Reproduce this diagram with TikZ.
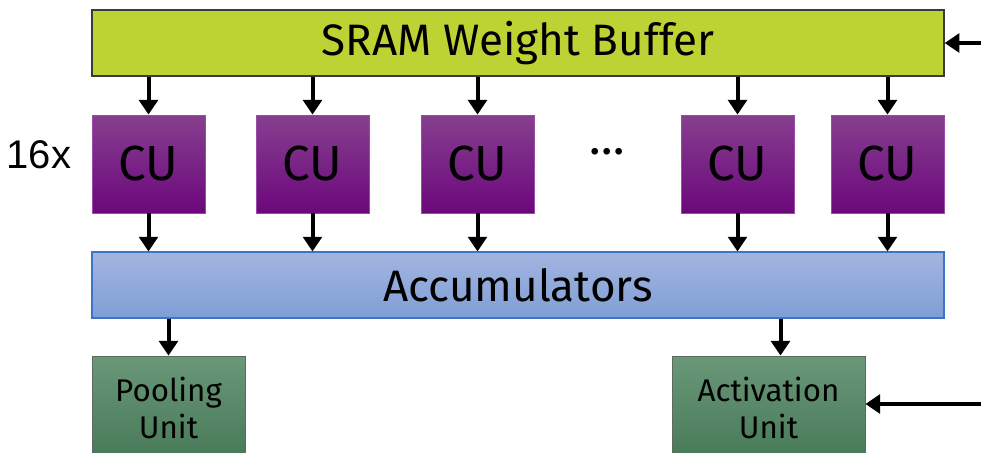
\documentclass[tikz,border=0pt]{standalone}
\usepackage{fontspec}
\setmainfont{Fira Sans}
\newfontfamily\labelfont{Liberation Sans}
\usetikzlibrary{arrows.meta}

\definecolor{sramfill}{HTML}{BDD334}
\definecolor{sramdraw}{HTML}{3A3A3A}
\definecolor{cutop}{HTML}{86408F}
\definecolor{cubot}{HTML}{6C077C}
\definecolor{cudraw}{HTML}{9A4AA8}
\definecolor{acctop}{HTML}{A3B5E0}
\definecolor{accbot}{HTML}{7F9ED6}
\definecolor{accdraw}{HTML}{3E73C8}
\definecolor{unittop}{HTML}{6A9879}
\definecolor{unitbot}{HTML}{477957}
\definecolor{unitdraw}{HTML}{5A6A5E}

\tikzset{
  arr/.style={line width=3pt, -{Triangle[length=11pt,width=14pt]}},
  bar/.style={rectangle, inner sep=0pt, minimum width=639pt, minimum height=49.5pt, font=\fontsize{33}{38}\selectfont},
  cubox/.style={rectangle, inner sep=0pt, draw=cudraw, line width=0.6pt, top color=cutop, bottom color=cubot,
    minimum width=84.75pt, minimum height=73.5pt, font=\fontsize{37}{42}\selectfont},
  unitbox/.style={rectangle, inner sep=0pt, draw=unitdraw, line width=0.6pt, top color=unittop, bottom color=unitbot,
    minimum height=78pt, align=center, font=\fontsize{23.5}{28}\selectfont}
}

\begin{document}
\begin{tikzpicture}[x=0.75pt,y=0.75pt,yscale=-1,xscale=1]
\useasboundingbox (0,0) rectangle (981,453);

% Buffer and accumulators
\node [bar, draw=sramdraw, line width=1pt, fill=sramfill] (sram) at (518,43) {SRAM Weight Buffer};
\node [bar, draw=accdraw, line width=0.8pt, top color=acctop, bottom color=accbot] (acc) at (518,285) {Accumulators};

% Compute units
\node [cubox] (cu1) at (148.5,164) {CU};
\node [cubox] (cu2) at (312.5,164) {CU};
\node [cubox] (cu3) at (477.5,164) {CU};
\node [cubox] (cu4) at (737.5,164) {CU};
\node [cubox] (cu5) at (887.5,164) {CU};

% Text Node
\node [font=\labelfont\fontsize{30}{34}\selectfont] (count) at (39,155) {16x};
% Text Node
\node [font=\fontsize{36}{40}\selectfont] (dots) at (607,152) {\ldots};

% Output units
\node [unitbox, minimum width=114.75pt] (pool) at (168.5,408) {Pooling\\Unit};
\node [unitbox, minimum width=144.75pt] (act) at (768.5,408) {Activation\\Unit};

% Straight Lines
\foreach \i in {1,...,5}{
  \draw [arr] (cu\i.north |- sram.south) -- (cu\i.north);
  \draw [arr] (cu\i.south) -- (cu\i.south |- acc.north);
}
\draw [arr] (pool.north |- acc.south) -- (pool.north);
\draw [arr] ([xshift=9pt]act.north |- acc.south) -- ([xshift=9pt]act.north);

% Inputs from the right
\coordinate (wgtin) at (981,43);
\coordinate (actin) at (981,404);
\draw [arr] (wgtin) -- (wgtin -| sram.east);
\draw [arr] (actin) -- (actin -| act.east);

\end{tikzpicture}
\end{document}
